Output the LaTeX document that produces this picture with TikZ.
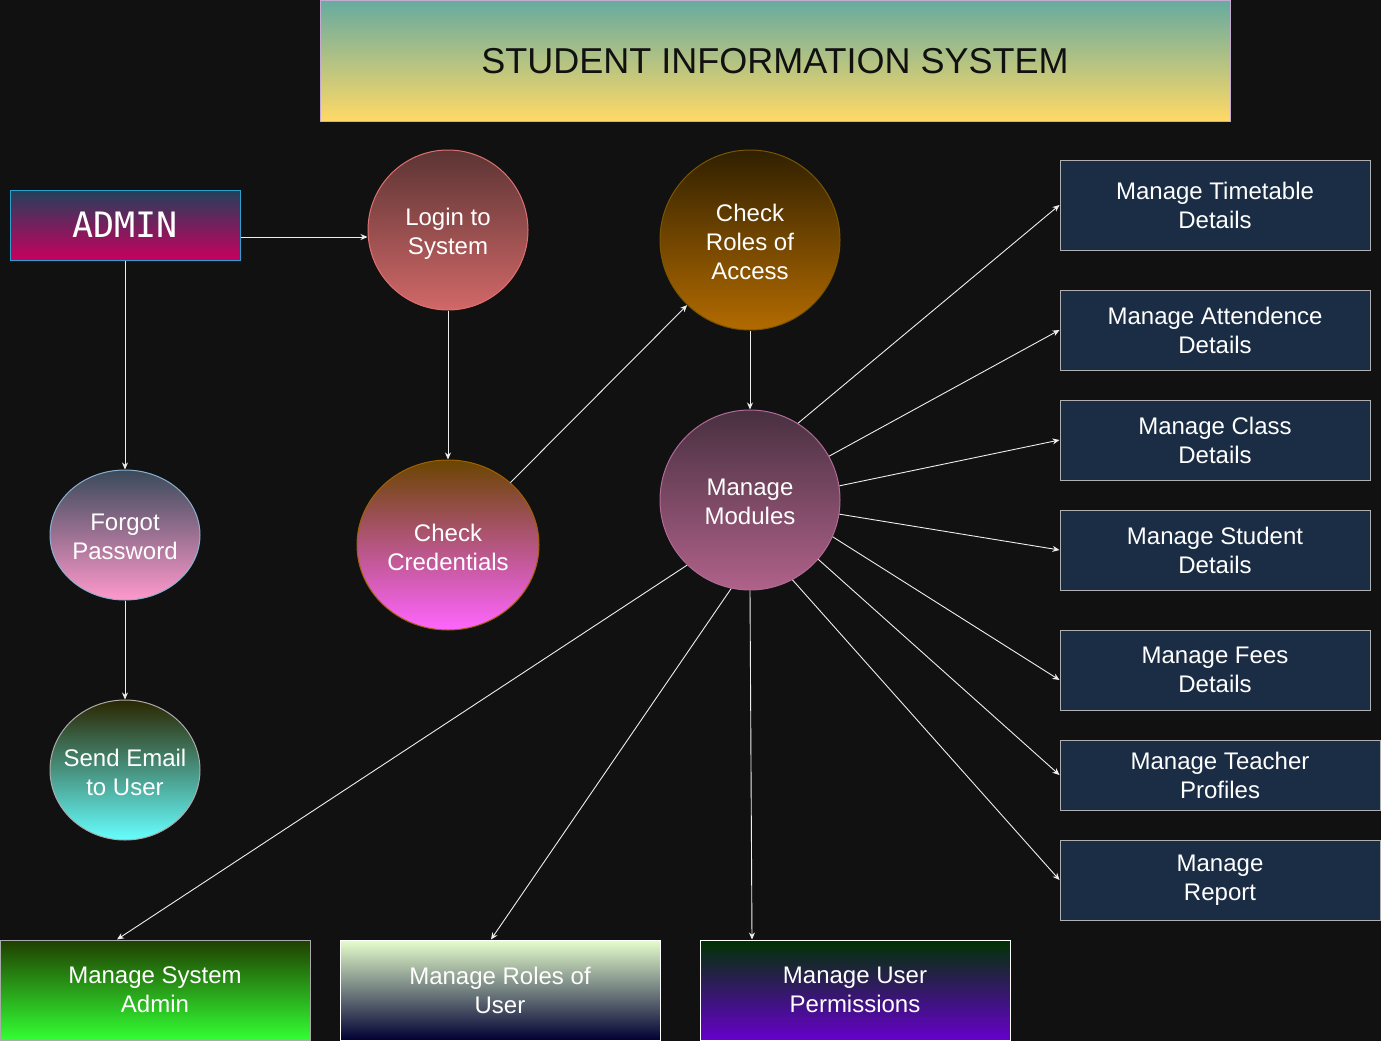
\documentclass[tikz,border=0pt]{standalone}
\usepackage{fontspec}
\setmainfont{Liberation Sans}
\newfontfamily\monofont{DejaVu Sans Mono}
\usetikzlibrary{shapes.geometric,arrows.meta,calc}

\definecolor{bgcol}{HTML}{111111}
\definecolor{linecol}{HTML}{EEEEEE}
\definecolor{navyfill}{HTML}{1B2D45}
\definecolor{navyline}{HTML}{B0B0B0}

\tikzset{
  lbl/.style={text=white, align=center, font=\fontsize{24}{29}\selectfont},
  roundnode/.style={circle, draw, line width=1pt, inner sep=0pt},
  ovalnode/.style={ellipse, draw, line width=1pt, inner sep=0pt},
  inside/.style={label={[lbl, yshift=-2pt]center:#1}},
  boxnode/.style={lbl, rectangle, draw, line width=1pt, inner sep=0pt},
  modbox/.style={boxnode, fill=navyfill, draw=navyline},
  conn/.style={draw=linecol, line width=0.9pt, -{Stealth[length=7pt,width=6pt]}},
}

\begin{document}
\begin{tikzpicture}[x=1pt,y=-1pt]
\fill[bgcol] (0,0) rectangle (1381,1041);
\useasboundingbox (0,0) rectangle (1381,1041);

% title banner
\node[rectangle, draw={rgb,255:red,195;green,171;blue,208}, line width=1pt,
      top color={rgb,255:red,103;green,171;blue,159},
      bottom color={rgb,255:red,255;green,217;blue,102},
      minimum width=910pt, minimum height=120pt, inner sep=0pt,
      text={rgb,255:red,17;green,17;blue,17},
      font=\fontsize{36}{43}\selectfont] (title) at (775,61) {STUDENT INFORMATION SYSTEM};

% actor
\node[boxnode, draw={rgb,255:red,42;green,160;blue,208},
      top color={rgb,255:red,34;green,64;blue,90},
      bottom color={rgb,255:red,200;green,0;blue,95},
      minimum width=230pt, minimum height=70pt,
      font=\monofont\fontsize{35}{42}\selectfont] (admin) at (125,225) {ADMIN};

% process circles
\node[roundnode, draw={rgb,255:red,224;green,112;blue,112},
      top color={rgb,255:red,92;green,52;blue,52},
      bottom color={rgb,255:red,210;green,104;blue,104},
      minimum size=160pt, label={[lbl, yshift=-4pt]center:Login to\\System}] (login) at (448,230) {};

\node[roundnode, draw={rgb,255:red,122;green,85;blue,0},
      top color={rgb,255:red,48;green,32;blue,0},
      bottom color={rgb,255:red,179;green,107;blue,0},
      minimum size=180pt, inside={Check\\Roles of\\Access}] (roles) at (750,240) {};

\node[ovalnode, draw={rgb,255:red,160;green,96;blue,0},
      top color={rgb,255:red,106;green,69;blue,0},
      bottom color={rgb,255:red,255;green,102;blue,255},
      minimum width=182pt, minimum height=170pt, inside={Check\\Credentials}] (cred) at (448,545) {};

\node[roundnode, draw={rgb,255:red,176;green,106;blue,149},
      top color={rgb,255:red,72;green,48;blue,64},
      bottom color={rgb,255:red,176;green,98;blue,138},
      minimum size=180pt, inside={Manage\\Modules}] (mod) at (750,500) {};

\node[ovalnode, draw={rgb,255:red,138;green,176;blue,208},
      top color={rgb,255:red,58;green,74;blue,90},
      bottom color={rgb,255:red,255;green,153;blue,204},
      minimum width=150pt, minimum height=130pt, inside={Forgot\\Password}] (fp) at (125,535) {};

\node[ovalnode, draw={rgb,255:red,170;green,170;blue,170},
      top color={rgb,255:red,42;green,38;blue,0},
      bottom color={rgb,255:red,102;green,255;blue,255},
      minimum width=150pt, minimum height=140pt, inside={Send Email\\to User}] (se) at (125,770) {};

% module boxes on the right
\node[modbox, minimum width=310pt, minimum height=90pt] (tt) at (1215,205) {Manage Timetable\\Details};
\node[modbox, minimum width=310pt, minimum height=80pt] (att) at (1215,330) {Manage Attendence\\Details};
\node[modbox, minimum width=310pt, minimum height=80pt] (cls) at (1215,440) {Manage Class\\Details};
\node[modbox, minimum width=310pt, minimum height=80pt] (stu) at (1215,550) {Manage Student\\Details};
\node[modbox, minimum width=310pt, minimum height=80pt] (fee) at (1215,670) {Manage Fees\\Details};
\node[modbox, minimum width=320pt, minimum height=70pt] (tch) at (1220,775) {Manage Teacher\\Profiles};
\node[modbox, minimum width=320pt, minimum height=80pt] (rep) at (1220,880) {Manage\\Report};

% administration boxes along the bottom
\node[boxnode, draw={rgb,255:red,170;green,170;blue,170},
      top color={rgb,255:red,31;green,63;blue,0},
      bottom color={rgb,255:red,51;green,255;blue,51},
      minimum width=310pt, minimum height=100pt] (sys) at (155,990) {Manage System\\Admin};
\node[boxnode, draw=white,
      top color={rgb,255:red,230;green,255;blue,204},
      bottom color={rgb,255:red,0;green,0;blue,51},
      minimum width=320pt, minimum height=100pt] (ru) at (500,990) {Manage Roles of\\User};
\node[boxnode, draw=white,
      top color={rgb,255:red,0;green,51;blue,0},
      bottom color={rgb,255:red,102;green,0;blue,204},
      minimum width=310pt, minimum height=100pt] (perm) at (855,990) {Manage User\\Permissions};

% flow
\draw[conn] ([yshift=-12pt]admin.east) -- ([yshift=-7pt]login.west);
\draw[conn] (admin.south) -- (fp.north);
\draw[conn] (fp.south) -- (se.north);
\draw[conn] (login.south) -- (cred.north);
\draw[conn] (cred.45) -- (roles.-134);
\draw[conn] (roles.south) -- (mod.north);

% module fan-out
\draw[conn] (mod.58) -- (tt.west);
\draw[conn] (mod.29) -- (att.west);
\draw[conn] (mod.9) -- (cls.west);
\draw[conn] (mod.-9) -- (stu.west);
\draw[conn] (mod.-24) -- ([yshift=-10pt]fee.west);
\draw[conn] (mod.-41) -- (tch.west);
\draw[conn] (mod.-62) -- (rep.west);
\draw[conn] (mod.-134) -- ([xshift=-38pt]sys.north);
\draw[conn] (mod.-102) -- ([xshift=-9pt]ru.north);
\draw[conn] (mod.south) -- ([xshift=-103pt]perm.north);
\end{tikzpicture}
\end{document}
